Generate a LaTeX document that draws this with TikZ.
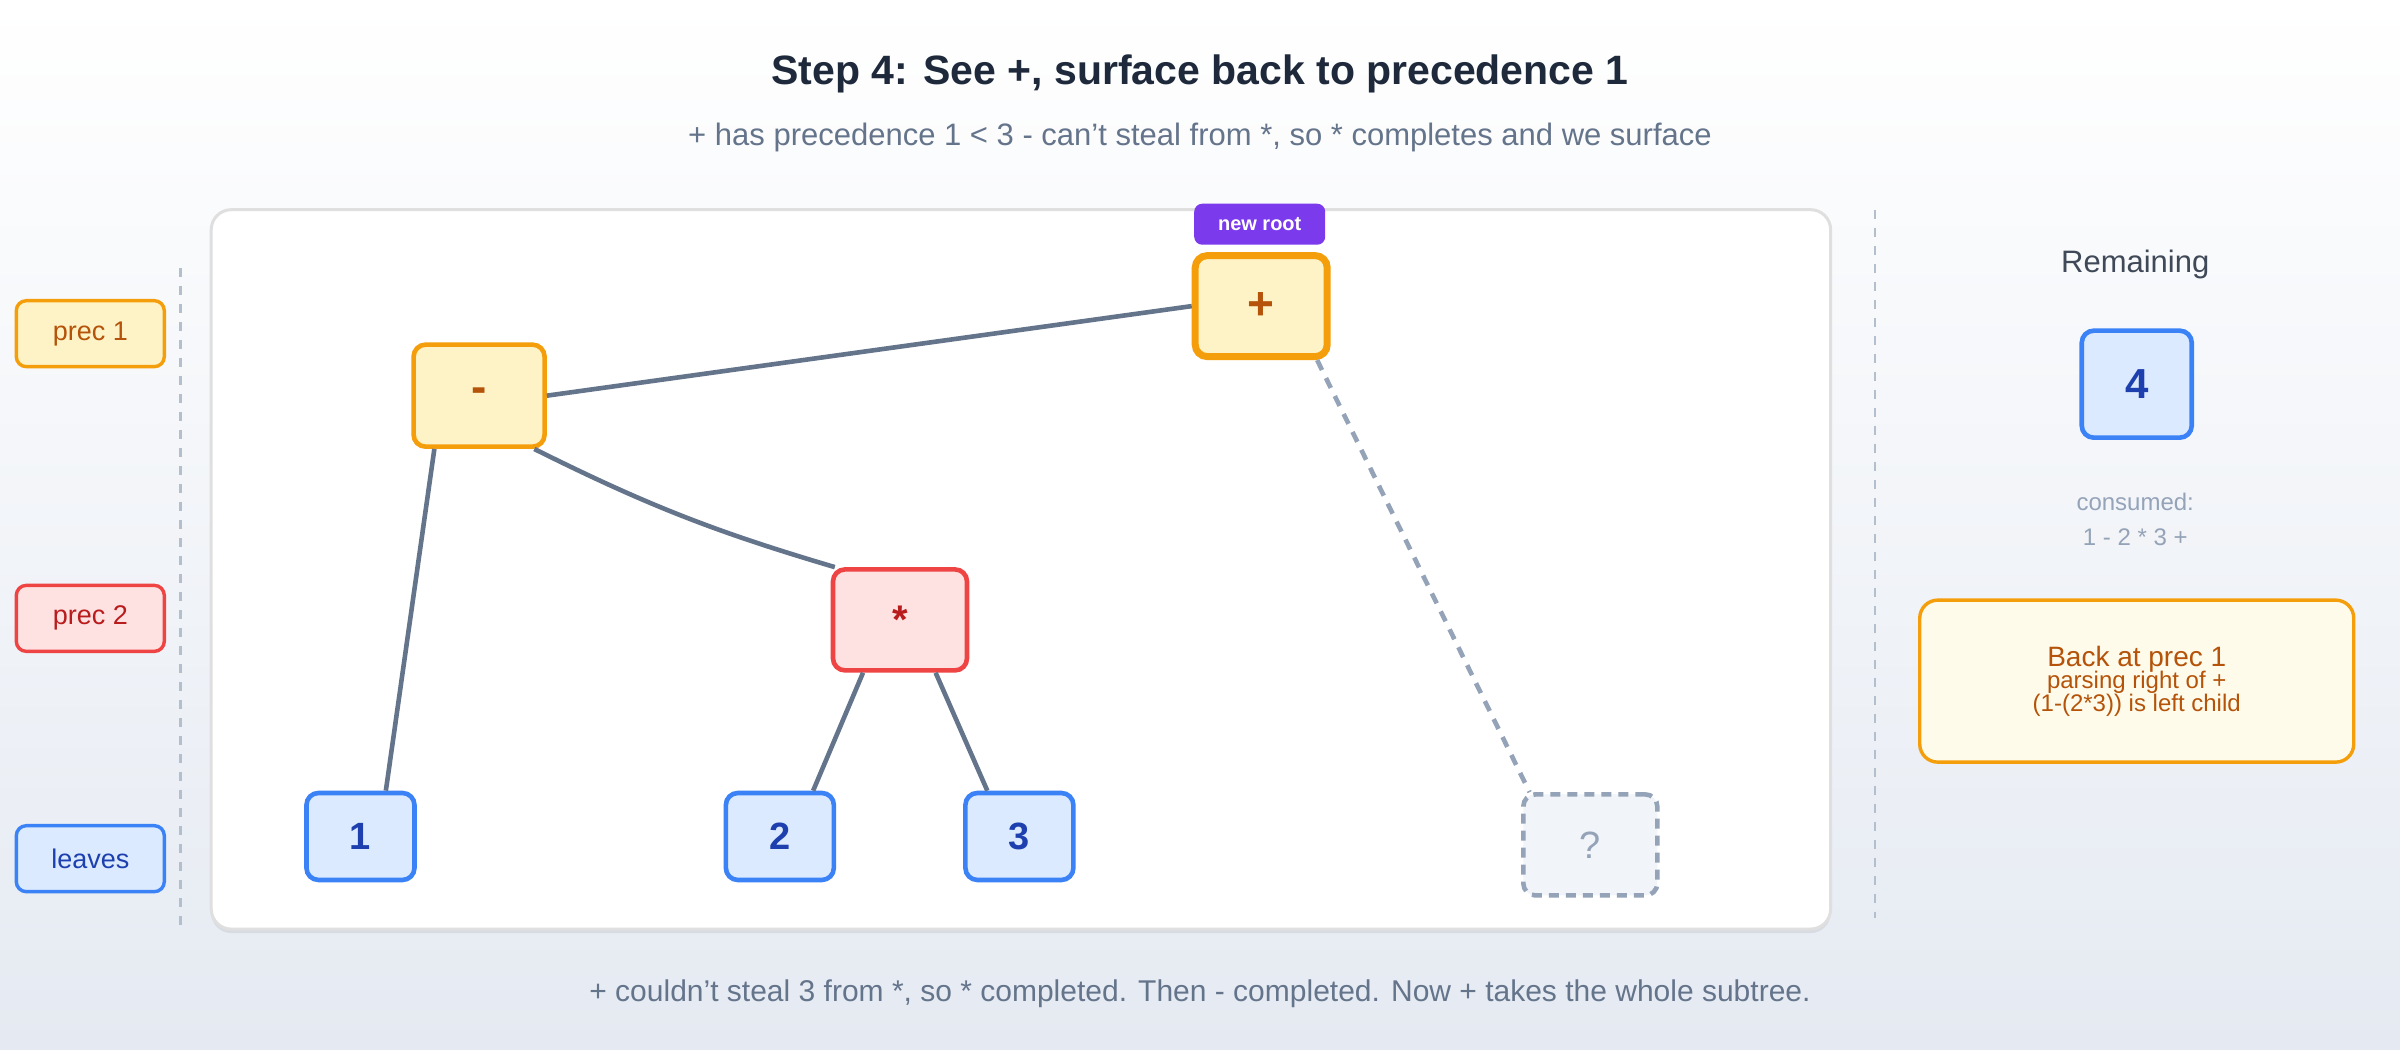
\documentclass[tikz,border=0pt]{standalone}
\usepackage{fontspec}
\setmainfont{Liberation Sans}
\usetikzlibrary{shadows,calc}
\definecolor{obd}{HTML}{F59E0B}\definecolor{ofl}{HTML}{FEF3C7}\definecolor{otx}{HTML}{B45309}
\definecolor{rbd}{HTML}{EF4444}\definecolor{rfl}{HTML}{FEE2E2}\definecolor{rtx}{HTML}{B91C1C}
\definecolor{bbd}{HTML}{3B82F6}\definecolor{bfl}{HTML}{DBEAFE}\definecolor{btx}{HTML}{1E40AF}
\definecolor{gbd}{HTML}{94A3B8}\definecolor{gfl}{HTML}{F1F5F9}
\definecolor{edge}{HTML}{64748B}\definecolor{ttl}{HTML}{1E293B}\definecolor{sub}{HTML}{64748B}
\definecolor{pur}{HTML}{7C3AED}\definecolor{cream}{HTML}{FFFBEB}
\begin{document}
\begin{tikzpicture}[x=1.5306pt,y=-1.5306pt,
 box/.style={rounded corners=12pt,line width=4.6pt,inner sep=0pt,align=center},
 opo/.style={box,draw=obd,fill=ofl,text=otx,font=\fontsize{46}{50}\selectfont\bfseries,minimum width=131pt,minimum height=102pt},
 opr/.style={box,draw=rbd,fill=rfl,text=rtx,font=\fontsize{40}{44}\selectfont\bfseries,minimum width=134pt,minimum height=101pt},
 leaf/.style={box,draw=bbd,fill=bfl,text=btx,font=\fontsize{38}{42}\selectfont\bfseries,minimum width=108pt,minimum height=87pt},
 lab/.style={rounded corners=10pt,line width=3.4pt,minimum width=148pt,minimum height=66pt,font=\fontsize{27}{30}\selectfont},
 ed/.style={draw=edge,line width=4.6pt},
 sep/.style={draw=gbd!70,line width=2.6pt,dash pattern=on 9pt off 9pt}]
\shade[top color=white,bottom color={rgb,255:red,229;green,234;blue,242}] (0,0) rectangle (1568,686);
\useasboundingbox (0,0) rectangle (1568,686);
\node[font=\fontsize{41}{46}\selectfont\bfseries,text=ttl] (title) at (784,48) {Step 4: See +, surface back to precedence 1};
\node[font=\fontsize{31}{36}\selectfont,text=sub] (subt) at (784,90) {+ has precedence 1 < 3 - can't steal from *, so * completes and we surface};
\fill[white,rounded corners=20pt,drop shadow={shadow xshift=0pt,shadow yshift=-4pt,opacity=.15}] (138,137) rectangle (1196,607);
\draw[gray!25,line width=3pt,rounded corners=20pt] (138,137) rectangle (1196,607);
\draw[sep] (118,175) -- (118,607);
\draw[sep] (1225,137) -- (1225,600);
\node[lab,draw=obd,fill=ofl,text=otx] (l1) at (59,218) {prec 1};
\node[lab,draw=rbd,fill=rfl,text=rtx] (l2) at (59,404) {prec 2};
\node[lab,draw=bbd,fill=bfl,text=btx] (l3) at (59,561) {leaves};
\node[opo,line width=7pt,minimum width=132pt,minimum height=101pt] (p) at (824,200) {+};
\node[opo] (m) at (313,258.5) {-};
\node[opr] (s) at (588,405) {*};
\node[leaf] (n1) at (235.5,546.5) {1};
\node[leaf] (n2) at (509.5,546.5) {2};
\node[leaf] (n3) at (666,546.5) {3};
\node[box,draw=gbd,fill=gfl,text=gbd,dash pattern=on 10pt off 7pt,font=\fontsize{38}{42}\selectfont,minimum width=134pt,minimum height=101pt] (q) at (1039,552) {?};
\node[fill=pur,text=white,rounded corners=8pt,minimum width=131pt,minimum height=41pt,inner sep=0pt,font=\fontsize{20}{22}\selectfont\bfseries] (nr) at (823,146.5) {new root};
\draw[ed] (m.east) -- (p.west);
\draw[ed] (m.230) -- (n1.61);
\draw[ed] (m.316) to[bend right=5] (s.141.5);
\draw[ed] (s.235.6) -- (n2.54.3);
\draw[ed] (s.304.4) -- (n3.125);
\draw[draw=gbd,line width=4.6pt,dash pattern=on 11pt off 9pt] (p.316) -- (q.139.8);
\node[font=\fontsize{31}{36}\selectfont,text=ttl!85] (rem) at (1395,173) {Remaining};
\node[leaf,minimum width=110pt,minimum height=107pt,font=\fontsize{42}{46}\selectfont\bfseries] (four) at (1396,251) {4};
\node[font=\fontsize{24}{28}\selectfont,text=gbd] (c1) at (1395,328) {consumed:};
\node[font=\fontsize{24}{28}\selectfont,text=gbd] (c2) at (1395,351) {1 - 2 * 3 +};
\node[draw=obd,fill=cream,line width=3.4pt,rounded corners=18pt,minimum width=434pt,minimum height=162pt,text=otx,align=center] (back) at (1396,445)
 {{\fontsize{28}{40}\selectfont Back at prec 1}\\[-2pt]{\fontsize{24}{36}\selectfont parsing right of +}\\{\fontsize{24}{34}\selectfont (1-(2*3)) is left child}};
\node[font=\fontsize{30}{34}\selectfont,text=sub] (cap) at (784,649) {+ couldn't steal 3 from *, so * completed. Then - completed. Now + takes the whole subtree.};
\end{tikzpicture}
\end{document}
